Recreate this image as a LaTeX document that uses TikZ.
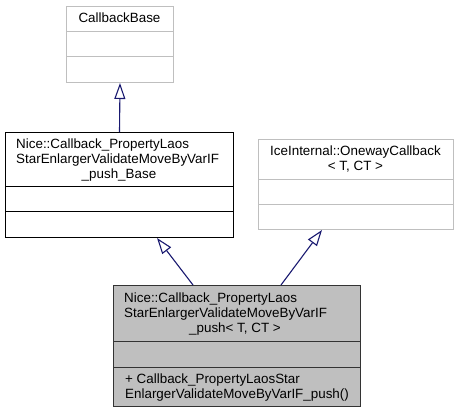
\documentclass[tikz,border=0pt]{standalone}
\usepackage{fontspec}
\setmainfont{Liberation Sans}
\usetikzlibrary{arrows.meta}
\definecolor{edgeblue}{HTML}{191970}
\definecolor{boxgray}{HTML}{BFBFBF}
\definecolor{framegray}{HTML}{BFBFBF}
\begin{document}
\begin{tikzpicture}[x=1pt,y=-1pt,
  box/.style={rectangle, draw, line width=1pt, inner sep=0pt, anchor=north west},
  lightbox/.style={box, draw=framegray, fill=white},
  darkbox/.style={box, draw=black, fill=white},
  curbox/.style={box, draw=black!80, fill=boxgray},
  lbl/.style={inner sep=0pt, font=\fontsize{13.4}{15}\selectfont},
  divl/.style={line width=1pt, draw=framegray},
  divd/.style={line width=1pt, draw=black},
  divc/.style={line width=1pt, draw=black!80},
  inh/.style={draw=edgeblue, line width=1.1pt,
    -{Triangle[open, length=16pt, width=11pt, fill=white]}}
]
\useasboundingbox (0,0) rectangle (458,412);

% CallbackBase
\node[lightbox, minimum width=107pt, minimum height=76pt] (cb) at (66,6) {};
\draw[divl] (66,32) -- (173,32);
\draw[divl] (66,57) -- (173,57);
\node[lbl, anchor=base] (cbt) at (119.5,22.5) {CallbackBase};

% Nice::..._Base
\node[darkbox, minimum width=228pt, minimum height=105pt] (nb) at (5,132) {};
\draw[divd] (5,186) -- (233,186);
\draw[divd] (5,211) -- (233,211);
\node[lbl, anchor=base west] (nbt1) at (16,148) {Nice::Callback\_PropertyLaos};
\node[lbl, anchor=base west] (nbt2) at (16,163) {StarEnlargerValidateMoveByVarIF};
\node[lbl, anchor=base] (nbt3) at (119,178) {\_push\_Base};

% IceInternal::OnewayCallback
\node[lightbox, minimum width=195pt, minimum height=90pt] (ice) at (258,139) {};
\draw[divl] (258,179) -- (453,179);
\draw[divl] (258,204) -- (453,204);
\node[lbl, anchor=base] (icet1) at (355.5,155) {IceInternal::OnewayCallback};
\node[lbl, anchor=base] (icet2) at (355.5,170) {< T, CT >};

% Nice::..._push< T, CT >
\node[curbox, minimum width=247pt, minimum height=121pt] (sub) at (113,285) {};
\draw[divc] (113,341) -- (360,341);
\draw[divc] (113,367) -- (360,367);
\node[lbl, anchor=base west] (subt1) at (124,302) {Nice::Callback\_PropertyLaos};
\node[lbl, anchor=base west] (subt2) at (124,317) {StarEnlargerValidateMoveByVarIF};
\node[lbl, anchor=base] (subt3) at (235,332) {\_push< T, CT >};
\node[lbl, anchor=base west] (subm1) at (125,383) {+ Callback\_PropertyLaosStar};
\node[lbl, anchor=base west] (subm2) at (125,398) {EnlargerValidateMoveByVarIF\_push()};

% inheritance edges
\draw[inh] ([xshift=114.5pt]nb.north west) -- (cb.south);
\draw[inh] ([xshift=80pt]sub.north west) -- ([xshift=152pt]nb.south west);
\draw[inh] ([xshift=168pt]sub.north west) -- ([xshift=64pt]ice.south west);
\end{tikzpicture}
\end{document}
